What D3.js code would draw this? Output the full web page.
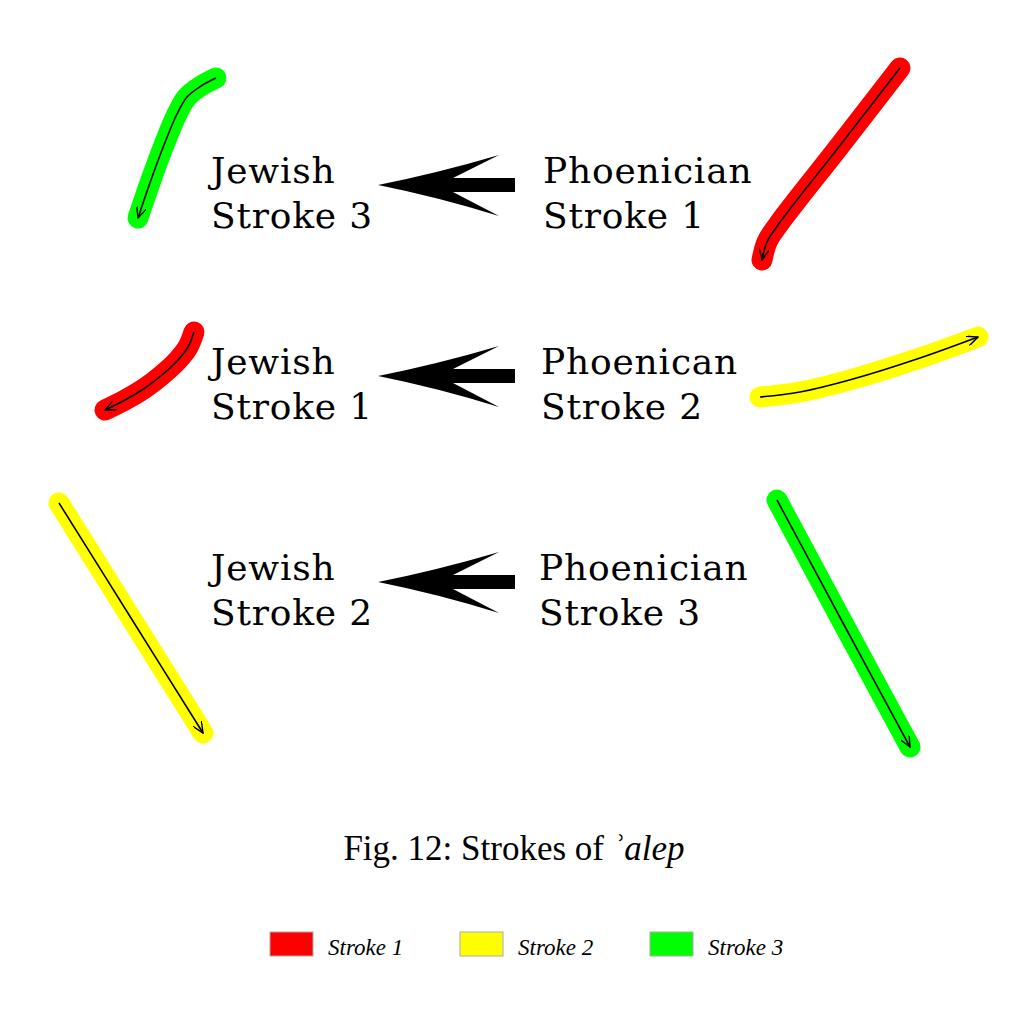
<!DOCTYPE html>
<meta charset="utf-8">
<script src="https://d3js.org/d3.v7.min.js"></script>
<style>
  body { margin: 0; background: #fff; }
</style>
<div id="figure"></div>
<script>

    // stroke traces (picture units, 0..1024)
    const jewishStroke3 = [[216,78],[201,86],[187,97],[177,114],[164,145],[151,180],[138,218]];
    const phoenStroke1  = [[900,68],[838,148],[778,225],[767,242],[762,260]];
    const jewishStroke1 = [[194,332],[188,347],[178,360],[162,375],[145,388],[125,400],[105,410]];
    const phoenStroke2  = [[760,397],[800,392],[853,379],[920,358],[978,337]];
    const jewishStroke2 = [[59,503],[131,618],[203,733]];
    const phoenStroke3  = [[777,500],[843,623],[910,747]];

    // which stroke number each trace is (1 = red, 2 = yellow, 3 = green)
    const traces = [jewishStroke3, phoenStroke1, jewishStroke1, phoenStroke2, jewishStroke2, phoenStroke3];
    const traceStroke = [3, 1, 1, 2, 2, 3];

    // rows of the figure
    const rowY = [183, 374, 580];
    const jewishLine1 = ["Jewish", "Jewish", "Jewish"];
    const jewishLine2 = ["Stroke 3", "Stroke 1", "Stroke 2"];
    const phoenLine1  = ["Phoenician", "Phoenican", "Phoenician"];
    const phoenLine2  = ["Stroke 1", "Stroke 2", "Stroke 3"];
    const phoenX      = [543, 541, 539];

    // legend
    const legendNames = ["Stroke 1", "Stroke 2", "Stroke 3"];
    const legendX     = [270, 460, 650];

    const width = 1024, height = 1024;

    const svg = d3.select("#figure")
      .append("svg")
        .attr("width", width)
        .attr("height", height);

    const x = d3.scaleLinear().domain([0, 1024]).range([0, width]);
    const y = d3.scaleLinear().domain([0, 1024]).range([0, height]);

    const colour = d3.scaleOrdinal()
      .domain([1, 2, 3])
      .range(["#ff0000", "#ffff00", "#00ff00"]);

    // open arrowhead for the thin direction line
    svg.append("defs").append("marker")
        .attr("id", "head")
        .attr("viewBox", "0 0 12 10")
        .attr("refX", 11)
        .attr("refY", 5)
        .attr("markerWidth", 12)
        .attr("markerHeight", 10)
        .attr("markerUnits", "userSpaceOnUse")
        .attr("orient", "auto")
      .append("path")
        .attr("d", "M0,0 L11,5 L0,10")
        .attr("fill", "none")
        .attr("stroke", "black")
        .attr("stroke-width", 1.4);

    const line = d3.line()
      .x(d => x(d[0]))
      .y(d => y(d[1]))
      .curve(d3.curveCatmullRom.alpha(0.5));

    // coloured bands
    svg.append("g")
      .selectAll("path")
      .data(traces)
      .enter()
      .append("path")
        .attr("d", line)
        .attr("fill", "none")
        .attr("stroke", (d, i) => colour(traceStroke[i]))
        .attr("stroke-width", 21)
        .attr("stroke-linecap", "round")
        .attr("stroke-linejoin", "round");

    // black direction lines
    svg.append("g")
      .selectAll("path")
      .data(traces)
      .enter()
      .append("path")
        .attr("d", line)
        .attr("fill", "none")
        .attr("stroke", "black")
        .attr("stroke-width", 1.6)
        .attr("marker-end", "url(#head)");

    // big arrows pointing from Phoenician to Jewish
    const tipX = 378;
    const arrowShape = "M0,0 Q60,-12 121,-30 L75,-7 L137,-7 L137,7 L75,7 L121,31 Q60,12 0,0 Z";
    svg.append("g")
      .selectAll("path")
      .data(rowY)
      .enter()
      .append("path")
        .attr("transform", d => "translate(" + x(tipX) + "," + y(d + 2) + ")")
        .attr("d", arrowShape)
        .attr("fill", "black");

    // labels
    const labelFont = "'DejaVu Serif', serif";
    function labels(line1, line2, xs) {
      const g = svg.append("g")
        .attr("font-family", labelFont)
        .attr("font-size", 36)
        .attr("letter-spacing", 0.8)
        .attr("fill", "black");
      g.selectAll("text.l1")
        .data(line1)
        .enter()
        .append("text")
          .attr("class", "l1")
          .attr("x", (d, i) => x(xs[i]))
          .attr("y", (d, i) => y(rowY[i]))
          .text(d => d);
      g.selectAll("text.l2")
        .data(line2)
        .enter()
        .append("text")
          .attr("class", "l2")
          .attr("x", (d, i) => x(xs[i]))
          .attr("y", (d, i) => y(rowY[i] + 45))
          .text(d => d);
    }
    labels(jewishLine1, jewishLine2, [211, 211, 211]);
    labels(phoenLine1, phoenLine2, phoenX);

    // caption
    const caption = svg.append("text")
        .attr("x", x(514))
        .attr("y", y(860))
        .attr("text-anchor", "middle")
        .attr("font-family", "'Liberation Serif', serif")
        .attr("font-size", 35)
        .attr("fill", "black");
    caption.append("tspan").text("Fig. 12: Strokes of ");
    caption.append("tspan").attr("font-style", "italic").text("\u02BEalep");

    // legend
    const legend = svg.append("g")
      .selectAll("g")
      .data(legendNames)
      .enter()
      .append("g")
        .attr("transform", (d, i) => "translate(" + x(legendX[i]) + "," + y(932) + ")");
    legend.append("rect")
        .attr("width", 43)
        .attr("height", 24)
        .attr("fill", (d, i) => colour(i + 1))
        .attr("stroke", "#aaaaaa")
        .attr("stroke-width", 1);
    legend.append("text")
        .attr("x", 58)
        .attr("y", 23)
        .attr("font-family", "'Liberation Serif', serif")
        .attr("font-style", "italic")
        .attr("font-size", 23)
        .attr("fill", "black")
        .text(d => d);

</script>
